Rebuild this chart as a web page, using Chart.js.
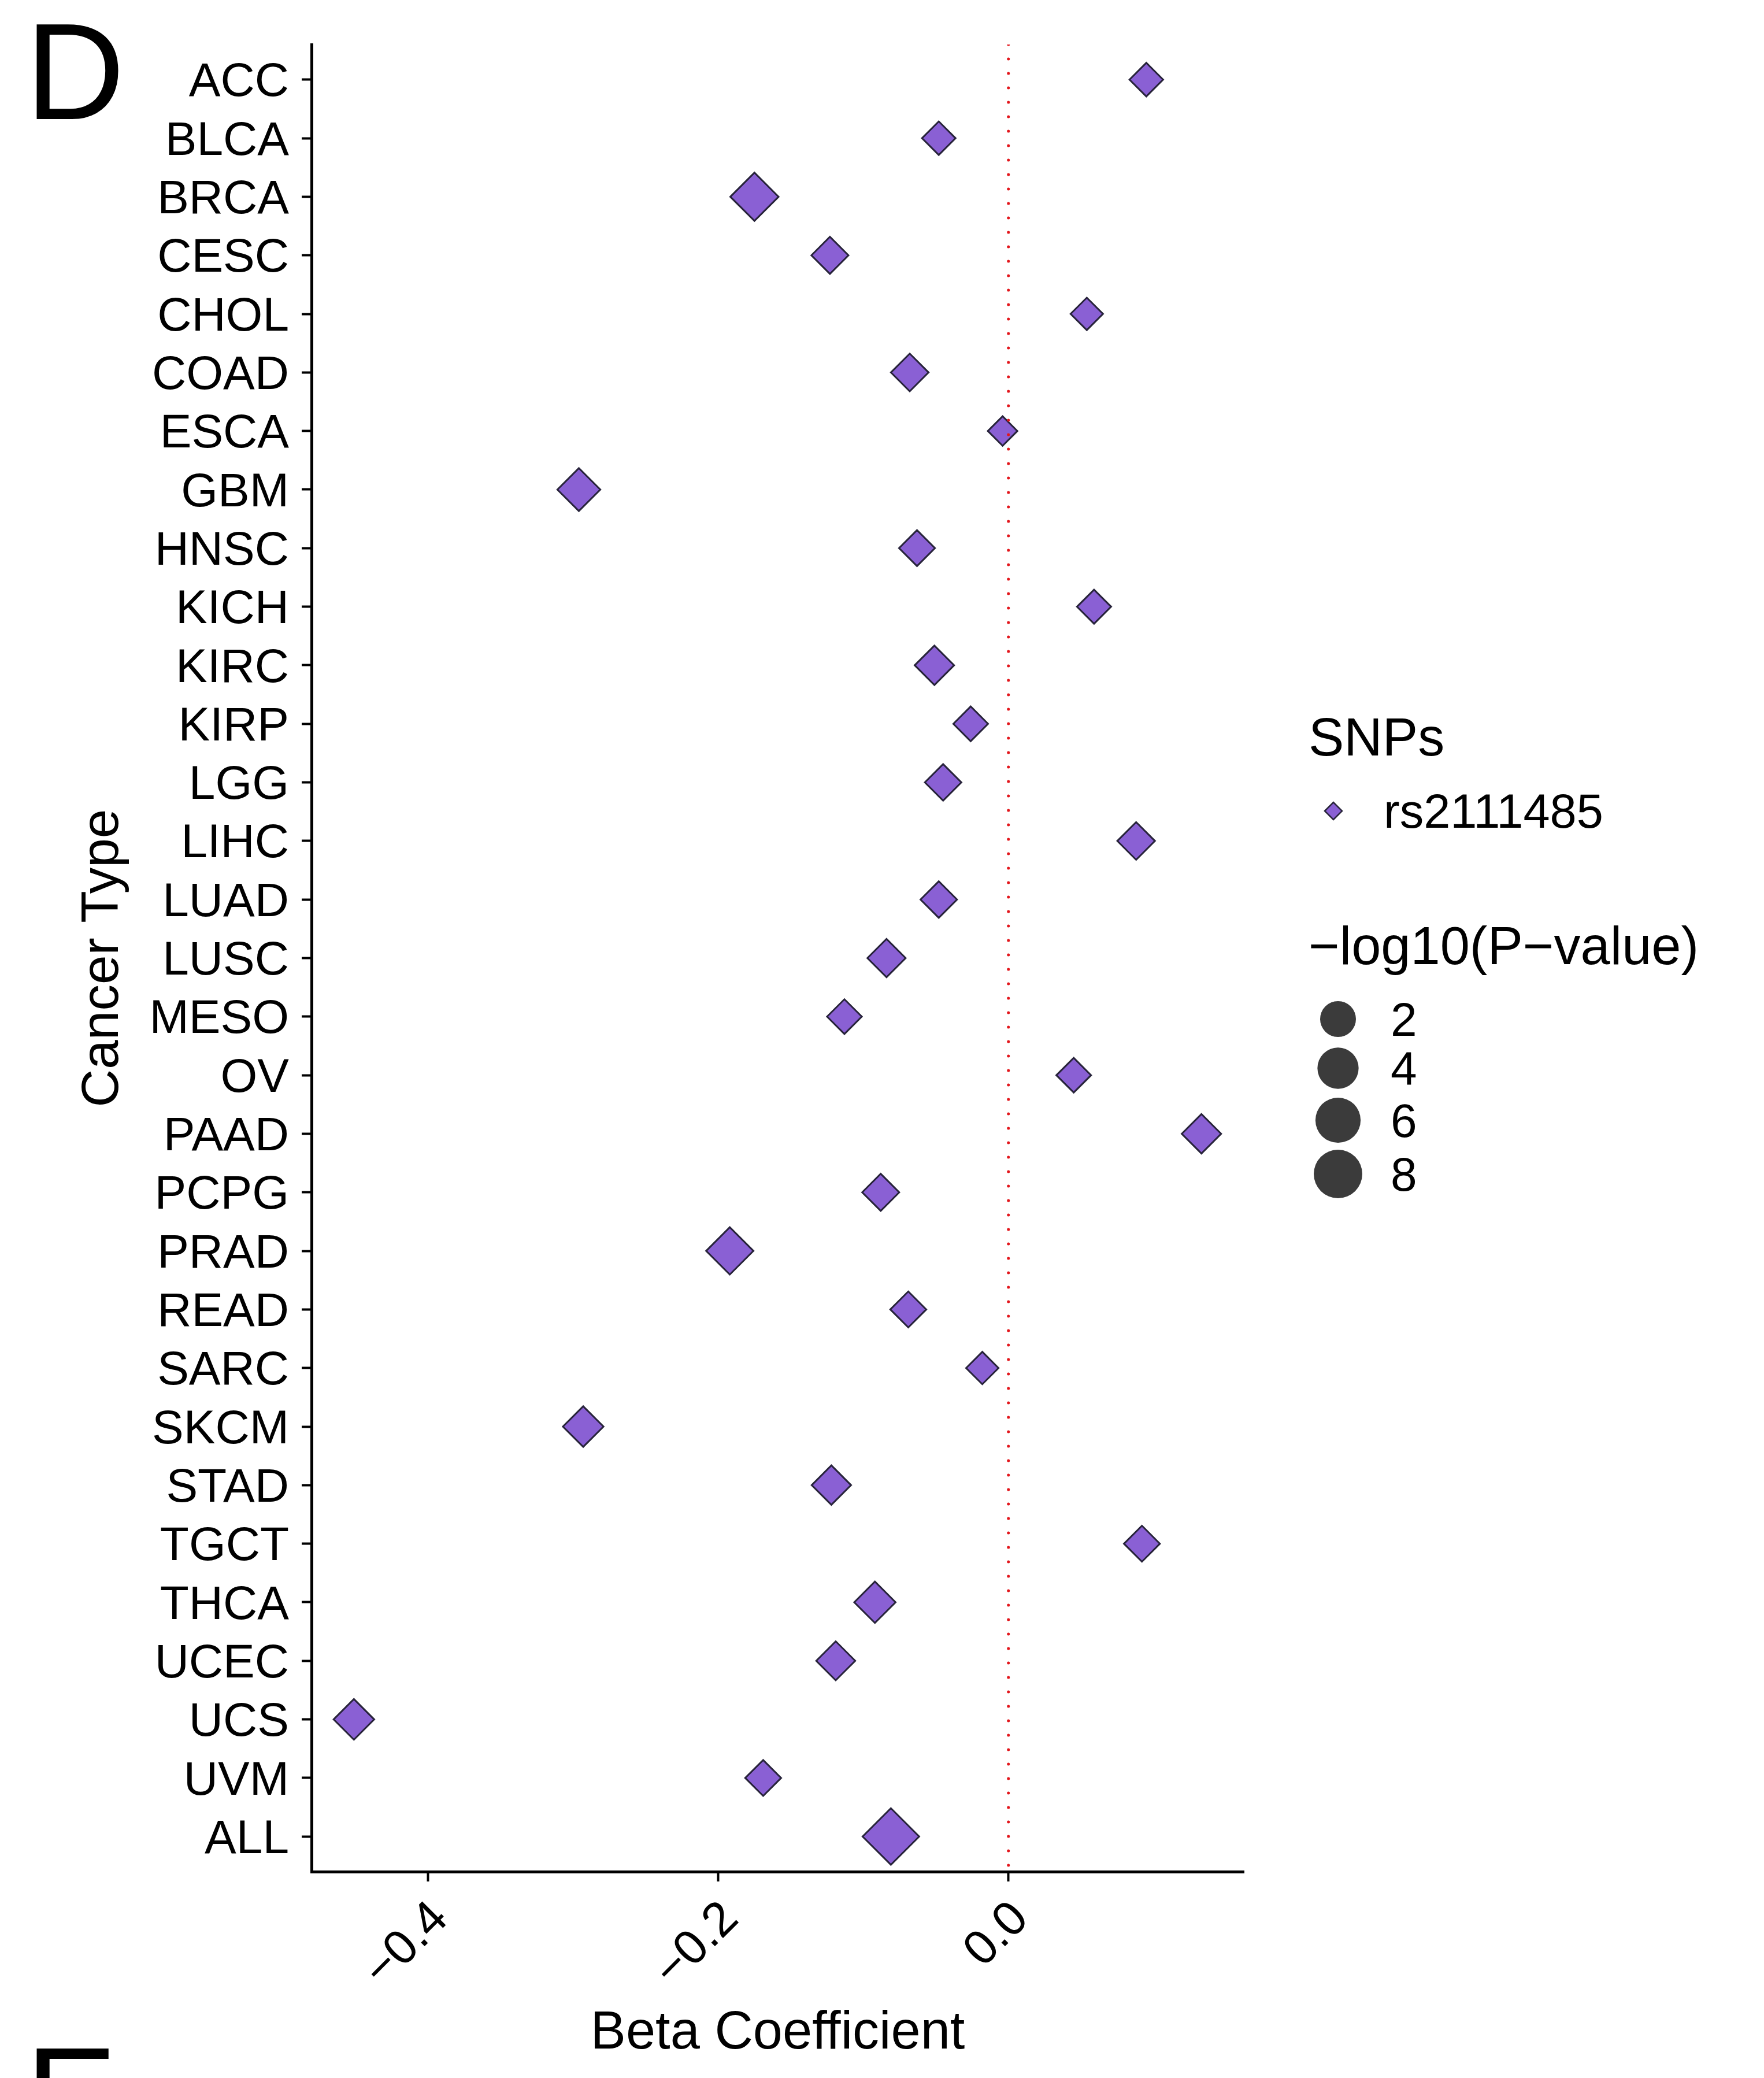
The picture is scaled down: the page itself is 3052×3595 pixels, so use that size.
<!DOCTYPE html>
<html lang="en">
  <head>
    <meta charset="UTF-8" />
    <title>Beta Coefficient by Cancer Type</title>
    <script src="https://cdn.jsdelivr.net/npm/chart.js@4.4.1/dist/chart.umd.min.js"></script>
    <style>
      body { margin: 0; background: #fff; }
      canvas { display: block; }
    </style>
  </head>
  <body>
    <canvas id="chart" width="3052" height="3595"></canvas>

    <script>
      const cancerTypes = ["ACC", "BLCA", "BRCA", "CESC", "CHOL", "COAD", "ESCA", "GBM", "HNSC", "KICH",
        "KIRC", "KIRP", "LGG", "LIHC", "LUAD", "LUSC", "MESO", "OV", "PAAD", "PCPG",
        "PRAD", "READ", "SARC", "SKCM", "STAD", "TGCT", "THCA", "UCEC", "UCS", "UVM", "ALL"];
      const beta = [0.095, -0.048, -0.175, -0.123, 0.054, -0.068, -0.004, -0.296, -0.063, 0.059,
        -0.051, -0.026, -0.045, 0.088, -0.048, -0.084, -0.113, 0.045, 0.133, -0.088,
        -0.192, -0.069, -0.018, -0.293, -0.122, 0.092, -0.092, -0.119, -0.451, -0.169, -0.081];
      const logP = [0.68, 0.68, 4.54, 1.22, 0.55, 1.34, 0.34, 2.67, 1.02, 0.75,
        1.72, 0.83, 1.12, 1.34, 1.12, 1.46, 0.83, 0.83, 1.72, 1.22,
        4.17, 1.02, 0.55, 2.01, 1.72, 1.02, 2.2, 1.62, 2.01, 1.02, 8.57];
      const xTicks = [-0.4, -0.2, 0.0];
      const sizeBreaks = [2, 4, 6, 8];
      const snpName = "rs2111485";

      const FONT = '"Liberation Sans", Arial, Helvetica, sans-serif';
      const PURPLE = "#8a60d4";
      const EDGE = "#27233a";

      // ggplot-like area scale: radius of a legend circle for a -log10(P) value
      function sizeR(v) {
        return 21.2 + 7.49 * Math.sqrt(Math.max(v - 0.288, 0));
      }
      function diamondR(v) {
        return 1.18 * sizeR(v) - 1.5;
      }

      // 5% expansion on each side, like ggplot
      const bMin = Math.min(...beta);
      const bMax = Math.max(...beta);
      const xPad = (bMax - bMin) * 0.05;

      function fmt(v) {
        const s = Math.abs(v).toFixed(1);
        return v < 0 ? "\u2212" + s : s;
      }

      const extras = {
        id: "extras",
        afterDraw(chart) {
          const ctx = chart.ctx;
          ctx.save();
          ctx.fillStyle = "#000";
          ctx.textAlign = "left";
          ctx.textBaseline = "alphabetic";

          // panel letters
          ctx.font = "238px " + FONT;
          ctx.fillText("D", 44, 206);
          ctx.fillText("E", 44, 3708);

          // shape legend
          ctx.font = "92px " + FONT;
          ctx.fillText("SNPs", 2264, 1307);
          ctx.beginPath();
          ctx.moveTo(2292, 1403);
          ctx.lineTo(2307, 1388);
          ctx.lineTo(2322, 1403);
          ctx.lineTo(2307, 1418);
          ctx.closePath();
          ctx.fillStyle = PURPLE;
          ctx.fill();
          ctx.lineWidth = 2.5;
          ctx.strokeStyle = EDGE;
          ctx.stroke();
          ctx.fillStyle = "#000";
          ctx.font = "83px " + FONT;
          ctx.fillText(snpName, 2394, 1432);

          // size legend
          ctx.font = "92px " + FONT;
          ctx.fillText("\u2212log10(P\u2212value)", 2264, 1668);
          const keyY = [1763, 1848, 1938, 2031];
          ctx.font = "82px " + FONT;
          sizeBreaks.forEach((v, i) => {
            ctx.beginPath();
            ctx.arc(2315, keyY[i], sizeR(v), 0, Math.PI * 2);
            ctx.fillStyle = "#3b3b3b";
            ctx.fill();
            ctx.fillStyle = "#000";
            ctx.fillText(String(v), 2406, keyY[i] + 29);
          });
          ctx.restore();
        },
      };

      const ctx = document.getElementById("chart").getContext("2d");
      new Chart(ctx, {
        type: "scatter",
        data: {
          datasets: [
            {
              type: "line",
              label: "zero",
              data: [{ x: 0, y: -0.6 }, { x: 0, y: cancerTypes.length - 0.4 }],
              borderColor: "#e3151b",
              borderWidth: 5,
              borderDash: [0, 25],
              borderCapStyle: "round",
              pointRadius: 0,
              fill: false,
            },
            {
              label: snpName,
              data: beta.map((b, i) => ({ x: b, y: i })),
              pointStyle: "rectRot",
              pointRadius: logP.map(diamondR),
              pointHoverRadius: logP.map(diamondR),
              backgroundColor: PURPLE,
              borderColor: EDGE,
              borderWidth: 3,
            },
          ],
        },
        options: {
          responsive: false,
          animation: false,
          devicePixelRatio: 1,
          layout: { padding: { left: 0, top: 77, right: 900, bottom: 0 } },
          plugins: { legend: { display: false }, tooltip: { enabled: false } },
          scales: {
            x: {
              type: "linear",
              min: bMin - xPad,
              max: bMax + xPad,
              afterBuildTicks: (scale) => {
                scale.ticks = xTicks.map((v) => ({ value: v }));
              },
              afterFit: (scale) => {
                scale.height = 357;
              },
              grid: { drawOnChartArea: false, drawTicks: true, tickLength: 17, tickWidth: 4, tickColor: "#000" },
              border: { display: true, width: 5, color: "#000" },
              ticks: {
                minRotation: 45,
                maxRotation: 45,
                padding: 16,
                labelOffset: 22,
                color: "#000",
                font: { family: FONT, size: 84 },
                callback: (v) => fmt(v),
              },
              title: {
                display: true,
                text: "Beta Coefficient",
                color: "#000",
                font: { family: FONT, size: 92 },
                padding: { top: 0, bottom: 21 },
              },
            },
            y: {
              type: "linear",
              reverse: true,
              min: -0.6,
              max: cancerTypes.length - 0.4,
              afterBuildTicks: (scale) => {
                scale.ticks = cancerTypes.map((c, i) => ({ value: i }));
              },
              afterFit: (scale) => {
                scale.width = 539;
              },
              grid: { drawOnChartArea: false, drawTicks: true, tickLength: 17, tickWidth: 4, tickColor: "#000" },
              border: { display: true, width: 5, color: "#000" },
              ticks: {
                autoSkip: false,
                padding: 22,
                labelOffset: 6,
                color: "#000",
                font: { family: FONT, size: 82 },
                callback: (v) => cancerTypes[v],
              },
              title: {
                display: true,
                text: "Cancer Type",
                color: "#000",
                font: { family: FONT, size: 91 },
                padding: { top: 124, bottom: 0 },
              },
            },
          },
        },
        plugins: [extras],
      });
    </script>
  </body>
</html>
